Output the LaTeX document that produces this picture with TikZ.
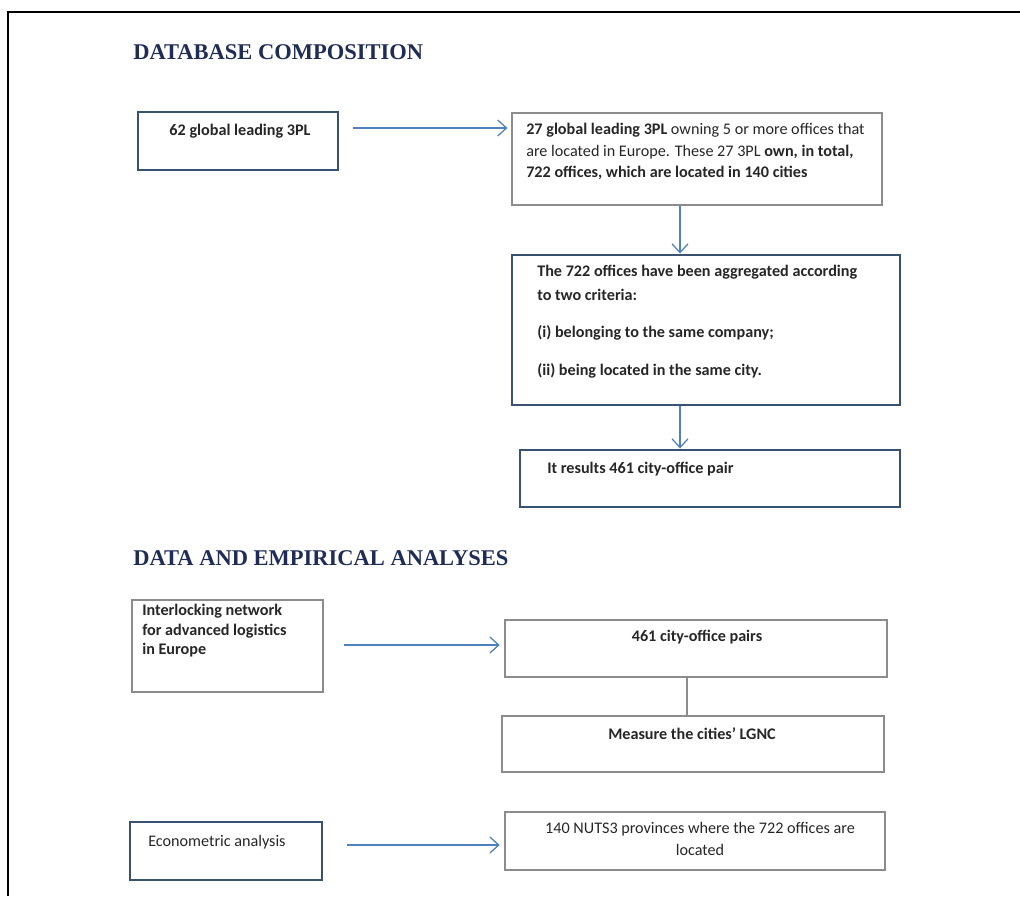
\documentclass[tikz,border=0pt]{standalone}
\usepackage{fontspec}
\setmainfont{Carlito}
\newfontfamily\headfont{Liberation Serif}
\usetikzlibrary{arrows.meta,fit}
\definecolor{navy}{RGB}{31,44,86}
\definecolor{frameblue}{RGB}{58,82,114}
\definecolor{arrowblue}{RGB}{79,129,189}
\definecolor{boxgray}{RGB}{140,140,140}
\definecolor{textgray}{RGB}{38,38,38}

\begin{document}
\begin{tikzpicture}[x=0.025cm,y=-0.025cm,
  heading/.style={anchor=west,inner sep=0,text=navy,font=\headfont\fontsize{16}{18}\selectfont\bfseries},
  thickbox/.style={draw=frameblue,line width=2.1pt,inner sep=0},
  thinbox/.style={draw=boxgray,line width=0.8pt,inner sep=0},
  txt/.style={inner sep=0,text=textgray,font=\fontsize{11.5}{15.3}\selectfont},
  flow/.style={draw=arrowblue,line width=0.9pt,-{Straight Barb[length=2.2mm,width=4mm]}}]
\useasboundingbox (0,0) rectangle (1020,896);
\draw[line width=1.6pt] (1020,12) -- (8,12) -- (8,896);

\node[heading] (dbhead) at (133,52) {DATABASE COMPOSITION};
\node[thickbox,fit={(138,112) (338,170)}] (lead62) {};
\node[txt,anchor=north] (lead62txt) at (240,124) {\textbf{62 global leading 3PL}};
\node[thinbox,fit={(512,113) (882,205)}] (own27) {};
\node[txt,anchor=north west,align=left] (own27txt) at (526,123)
  {\textbf{27 global leading 3PL} owning 5 or more offices that\\
   are located in Europe. These 27 3PL \textbf{own, in total,}\\
   \textbf{722 offices, which are located in 140 cities}};
\node[thickbox,fit={(512,255) (900,405)}] (agg) {};
\node[txt,anchor=north west,align=left,font=\fontsize{11.5}{17}\selectfont\bfseries] (aggtxt) at (537,265)
  {The 722 offices have been aggregated according\\
   to two criteria:\\[9.3pt]
   (i) belonging to the same company;\\[10pt]
   (ii) being located in the same city.};
\node[thickbox,fit={(520,450) (900,507)}] (pair461) {};
\node[txt,anchor=north west] (pair461txt) at (547,462) {\textbf{It results 461 city-office pair}};

\draw[flow,shorten <=0.35cm,shorten >=0.1cm] (lead62.east |- 0,128) -- (own27.west |- 0,128);
\draw[flow] (own27.south -| 680,0) -- (agg.north -| 680,0);
\draw[flow] (agg.south -| 680,0) -- (pair461.north -| 680,0);

\node[heading] (dahead) at (133,558) {DATA AND EMPIRICAL ANALYSES};
\node[thinbox,fit={(132,600) (323,692)}] (net) {};
\node[txt,anchor=north west,align=left,font=\fontsize{11.5}{13.9}\selectfont\bfseries] (nettxt) at (142,604)
  {Interlocking network\\ for advanced logistics\\ in Europe};
\node[thinbox,fit={(505,620) (887,677)}] (pairs) {};
\node[txt,anchor=north] (pairstxt) at (697,630) {\textbf{461 city-office pairs}};
\node[thinbox,fit={(502,716) (884,772)}] (lgnc) {};
\node[txt,anchor=north] (lgnctxt) at (692,727) {\textbf{Measure the cities’ LGNC}};
\node[thickbox,fit={(130,822) (322,880)}] (econ) {};
\node[txt,anchor=north west] (econtxt) at (148,835) {Econometric analysis};
\node[thinbox,fit={(505,812) (885,870)}] (nuts) {};
\node[txt,anchor=north,align=center] (nutstxt) at (700,822)
  {140 NUTS3 provinces where the 722 offices are\\ located};

\draw[flow,shorten <=0.5cm,shorten >=0.12cm] (net.east |- 0,645) -- (pairs.west |- 0,645);
\draw[draw=boxgray,line width=0.8pt] (pairs.south -| 687,0) -- (lgnc.north -| 687,0);
\draw[flow,shorten <=0.58cm,shorten >=0.12cm] (econ.east |- 0,845) -- (nuts.west |- 0,845);
\end{tikzpicture}
\end{document}
